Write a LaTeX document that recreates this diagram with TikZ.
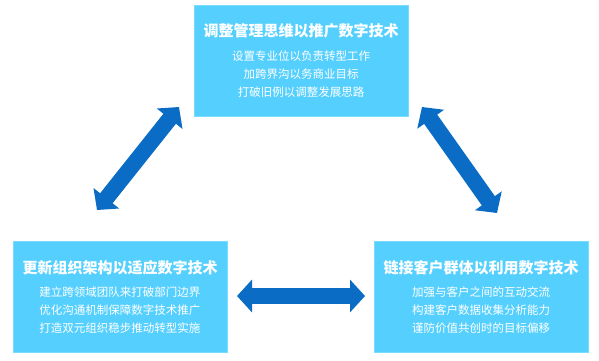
\documentclass[tikz,border=0pt]{standalone}
\usepackage{fontspec}
\setmainfont{Noto Sans CJK SC}
\usetikzlibrary{arrows.meta,positioning}
\definecolor{boxblue}{RGB}{85,208,254}
\definecolor{boxedge}{RGB}{120,220,255}
\definecolor{arrowblue}{RGB}{11,108,197}

\begin{document}
\begin{tikzpicture}[
  x=1pt, y=-1pt,
  box/.style={draw=boxedge, fill=boxblue, line width=0.8pt, minimum width=214pt,
    minimum height=111pt, align=center, text=white, inner sep=0pt,
    font=\fontsize{11.5}{18}\selectfont},
  headline/.style={font=\bfseries\fontsize{15}{18}\selectfont},
  dblarrow/.style={draw=arrowblue, line width=16pt,
    {Triangle[width=32pt,length=15pt]}-{Triangle[width=32pt,length=15pt]}}
]
  \useasboundingbox (0,0) rectangle (599,360);
  % the three boxes
  \node[box] (think) at (301,61)
    {{\bfseries\fontsize{15}{18}\selectfont 调整管理思维以推广数字技术}\\[6pt]
     设置专业位以负责转型工作\\ 加跨界沟以务商业目标\\ 打破旧例以调整发展思路};
  \node[box] (org) at (120,297)
    {{\bfseries\fontsize{15}{18}\selectfont 更新组织架构以适应数字技术}\\[5pt]
     建立跨领域团队来打破部门边界\\ 优化沟通机制保障数字技术推广\\ 打造双元组织稳步推动转型实施};
  \node[box] (cust) at (481,297)
    {{\bfseries\fontsize{15}{18}\selectfont 链接客户群体以利用数字技术}\\[5pt]
     加强与客户之间的互动交流\\ 构建客户数据收集分析能力\\ 谨防价值共创时的目标偏移};
  % arrow ends
  \coordinate (a1) at (179,107);
  \coordinate (a2) at (97,210);
  \coordinate (b1) at (422,107);
  \coordinate (b2) at (497,213);
  \coordinate (c1) at (237,296);
  \coordinate (c2) at (365,296);
  \draw[dblarrow] (a1) -- (a2);
  \draw[dblarrow] (b1) -- (b2);
  \draw[dblarrow] (c1) -- (c2);
\end{tikzpicture}
\end{document}
